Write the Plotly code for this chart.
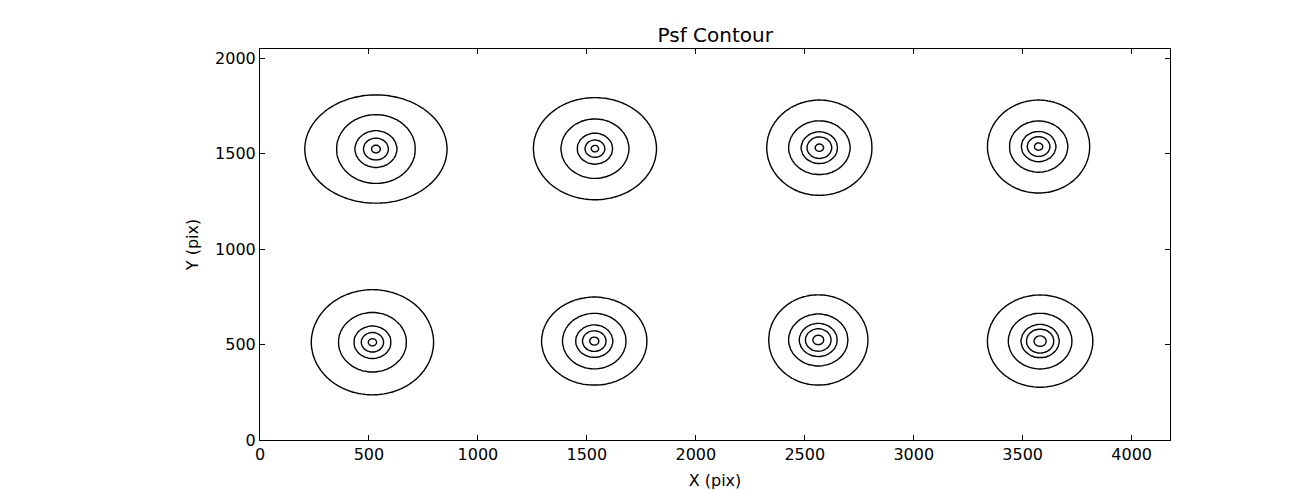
import numpy as np
import plotly.graph_objects as go

# PSF centres (data pixels)
psf_x = [532, 1537, 2567, 3573, 516, 1534, 2562, 3580]
psf_y = [1524, 1526, 1531, 1537, 512, 518, 524, 518]
# outer contour (level 1) half-widths in x and y (data pixels)
ring_r1x = [326, 282, 241, 234, 280, 241, 227, 241]
ring_r1y = [283, 267, 249, 243, 275, 230, 236, 241]
# inner contour radii (data pixels) for levels 2..5
ring_r2 = [180, 155, 140, 133, 155, 145, 135, 145]
ring_r3 = [95, 80, 82, 78, 84, 84, 86, 86]
ring_r4 = [57, 45, 57, 52, 51, 54, 59, 63]
ring_r5 = [20, 17, 19, 19, 19, 21, 25, 28]
levels = [1, 2, 3, 4, 5]
x_max, y_max = 4176, 2048

xs = np.arange(0, x_max + 1, 8.0)
ys = np.arange(0, y_max + 1, 8.0)
X, Y = np.meshgrid(xs, ys)
Z = np.zeros_like(X)
for i in range(len(psf_x)):
    dx = X - psf_x[i]
    dy = Y - psf_y[i]
    d = np.hypot(dx, dy)
    th = np.arctan2(dy, dx)
    a, b = ring_r1x[i], ring_r1y[i]
    r1 = a * b / np.sqrt((b * np.cos(th)) ** 2 + (a * np.sin(th)) ** 2)
    rr = [0, ring_r5[i], ring_r4[i], ring_r3[i], ring_r2[i]]
    lv = [levels[-1] + 0.6, 5, 4, 3, 2]
    z_in = np.interp(d, rr, lv)
    z_mid = 2 - (d - ring_r2[i]) / (r1 - ring_r2[i])
    z_out = 1 - (d - r1) / (0.6 * r1)
    z = np.where(d <= ring_r2[i], z_in, np.where(d <= r1, z_mid, z_out))
    Z = np.maximum(Z, np.clip(z, 0, None))

fig = go.Figure(go.Contour(
    x=xs, y=ys, z=Z,
    contours=dict(coloring="none", start=1, end=5, size=1, showlabels=False),
    line=dict(color="black", width=1.4, smoothing=0.5),
    showscale=False, hoverinfo="skip",
))

font = dict(family="DejaVu Sans", size=16, color="black")
axis_common = dict(showline=True, linecolor="black", linewidth=1, mirror="ticks",
                   ticks="inside", ticklen=5, tickcolor="black", showgrid=False,
                   zeroline=False, tickfont=font, dtick=500, automargin=False)
fig.update_layout(
    width=1300, height=490,
    margin=dict(l=252, r=138, t=41, b=58),
    paper_bgcolor="white", plot_bgcolor="white",
    title=dict(text="Psf Contour", x=0.544, xanchor="center", y=0.945, yanchor="middle",
               font=dict(family="DejaVu Sans", size=20, color="black")),
    xaxis=dict(range=[0, x_max], title=dict(text="X (pix)", font=font, standoff=11), **axis_common),
    yaxis=dict(range=[0, y_max], title=dict(text="Y (pix)", font=font, standoff=12), **axis_common),
    showlegend=False,
)
fig.write_html("out.html")
